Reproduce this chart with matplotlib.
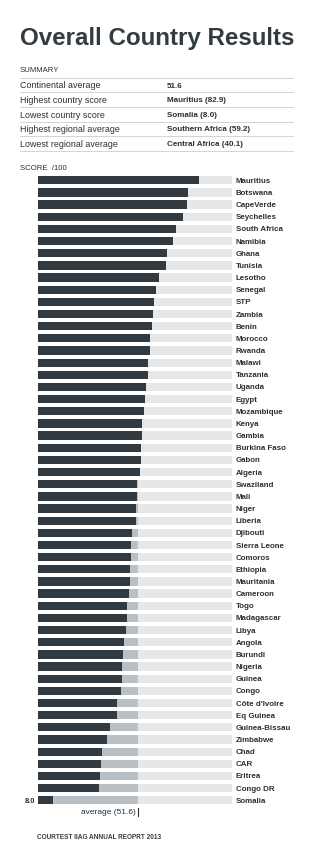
import matplotlib
matplotlib.use("Agg")
import matplotlib.pyplot as plt

# ---- data -------------------------------------------------------------
countries = [
    "Mauritius", "Botswana", "CapeVerde", "Seychelles", "South Africa",
    "Namibia", "Ghana", "Tunisia", "Lesotho", "Senegal", "STP", "Zambia",
    "Benin", "Morocco", "Rwanda", "Malawi", "Tanzania", "Uganda", "Egypt",
    "Mozambique", "Kenya", "Gambia", "Burkina Faso", "Gabon", "Algeria",
    "Swaziland", "Mali", "Niger", "Liberia", "Djibouti", "Sierra Leone",
    "Comoros", "Ethiopia", "Mauritania", "Cameroon", "Togo", "Madagascar",
    "Libya", "Angola", "Burundi", "Nigeria", "Guinea", "Congo",
    "Côte d'Ivoire", "Eq Guinea", "Guinea-Bissau", "Zimbabwe", "Chad",
    "CAR", "Eritrea", "Congo DR", "Somalia",
]
scores = [
    82.9, 77.6, 76.7, 75.0, 71.3, 69.8, 66.8, 66.0, 62.2, 61.0, 60.0, 59.5,
    58.8, 57.8, 57.8, 56.8, 56.9, 55.8, 55.0, 54.8, 53.8, 53.8, 53.2, 53.0,
    52.7, 50.9, 50.9, 50.6, 50.4, 48.5, 48.2, 48.0, 47.7, 47.3, 47.0, 46.0,
    45.8, 45.4, 44.6, 44.1, 43.5, 43.4, 43.0, 41.0, 41.0, 37.2, 35.5, 33.1,
    32.7, 32.1, 31.4, 8.0,
]
continental_avg = 51.6
max_score = 100

summary_labels = [
    "Continental average",
    "Highest country score",
    "Lowest country score",
    "Highest regional average",
    "Lowest regional average",
]
summary_values = [
    "51.6",
    "Mauritius (82.9)",
    "Somalia (8.0)",
    "Southern Africa (59.2)",
    "Central Africa (40.1)",
]

# ---- style ------------------------------------------------------------
DARK = "#313a41"
MID = "#b8c0c6"
LIGHT = "#e6e7e8"
TEXT = "#2b2f33"
RULE = "#d2d4d6"
SANS = ["Liberation Sans", "DejaVu Sans"]

W, H = 331, 862
fig = plt.figure(figsize=(W / 100, H / 100), dpi=100)
fig.patch.set_facecolor("white")


def fx(x):
    return x / W


def fy(y):
    return 1 - y / H


# ---- header -----------------------------------------------------------
fig.text(fx(20), fy(39), "Overall Country Results", family=SANS, weight="bold",
         fontsize=17.4, color="#323b42", va="center", ha="left")

fig.text(fx(20), fy(70), "SUMMARY", family=SANS, fontsize=5.6, color=TEXT,
         va="center", ha="left")

rule_ys = [78.7, 93.3, 108.3, 122.7, 137.3, 152.3]
for y in rule_ys:
    fig.add_artist(plt.Line2D([fx(20), fx(293)], [fy(y), fy(y)],
                              color=RULE, lw=0.7, transform=fig.transFigure))

for i, (lab, val) in enumerate(zip(summary_labels, summary_values)):
    yc = (rule_ys[i] + rule_ys[i + 1]) / 2
    fig.text(fx(20), fy(yc), lab, family=SANS, fontsize=6.4, color=TEXT,
             va="center", ha="left")
    fig.text(fx(166.7), fy(yc), val, family=SANS, fontsize=5.8, weight="bold",
             color=TEXT, va="center", ha="left")

fig.text(fx(20), fy(169), "SCORE  /100", family=SANS, fontsize=5.6,
         color=TEXT, va="center", ha="left")

# ---- bars -------------------------------------------------------------
x0, x1 = 37.7, 232.0
y_first, y_last = 181.3, 801.3
n = len(countries)
pitch = (y_last - y_first) / (n - 1)
top = y_first - pitch / 2
bottom = y_last + pitch / 2
ax = fig.add_axes([fx(x0), fy(bottom), (x1 - x0) / W, (bottom - top) / H])
ax.set_xlim(0, max_score)
ax.set_ylim(n - 0.5, -0.5)
ax.axis("off")

pos = list(range(n))
bh = 0.68
ax.barh(pos, [max_score] * n, height=bh, color=LIGHT, lw=0)
below = [continental_avg if s < continental_avg else 0 for s in scores]
ax.barh(pos, below, height=bh, color=MID, lw=0)
ax.barh(pos, scores, height=bh, color=DARK, lw=0)

for i, name in enumerate(countries):
    ax.text(max_score + 1.9, i, name, family=SANS, fontsize=5.7,
            weight="bold", color=TEXT, va="center", ha="left")

# value tag for the lowest score
ax.text(-1.4, n - 1, f"{scores[-1]:.1f}", family=SANS, fontsize=5.4,
        weight="bold", color=TEXT, va="center", ha="right")

# continental average marker beneath the bars
ax.plot([continental_avg, continental_avg], [n - 0.38, n + 0.28],
        color=TEXT, lw=0.8, clip_on=False)
ax.text(continental_avg - 1.2, n - 0.05, f"average ({continental_avg})",
        family=SANS, fontsize=6.0, color=TEXT, va="center", ha="right")

# ---- footer -----------------------------------------------------------
fig.text(fx(36.7), fy(837.7), "COURTEST IIAG ANNUAL REOPRT 2013",
         family=SANS, fontsize=4.7, weight="bold", color="#3a3f44",
         va="center", ha="left")

fig.savefig("out.png", dpi=100, facecolor="white")
